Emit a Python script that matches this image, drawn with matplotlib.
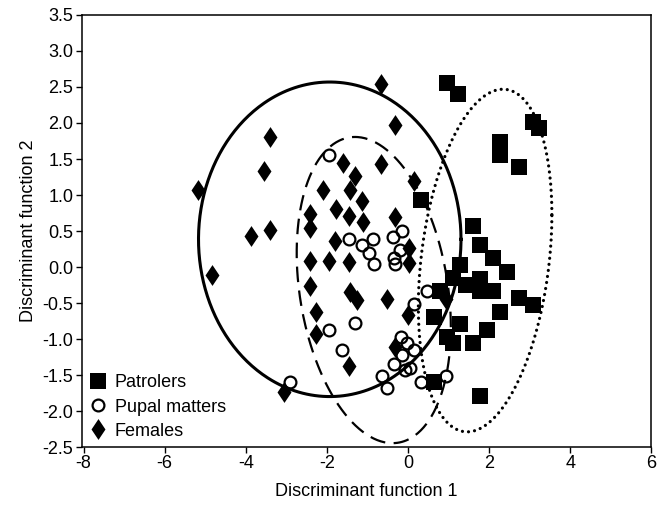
import numpy as np
import matplotlib
matplotlib.use("Agg")
import matplotlib.pyplot as plt

plt.rcParams["font.family"] = ["Liberation Sans", "DejaVu Sans"]
plt.rcParams["axes.unicode_minus"] = False

# group scores (discriminant function 1, 2)
patrol_x = [0.97, 1.24, 3.07, 3.23, 2.26, 2.26, 2.74, 0.31, 1.61, 1.77,
            2.10, 2.43, 1.28, 1.12, 1.44, 1.77, 1.77, 2.10, 0.79, 2.74,
            3.07, 2.27, 0.64, 1.28, 1.94, 0.95, 1.12, 1.61, 0.64, 1.77]
patrol_y = [2.55, 2.40, 2.02, 1.93, 1.74, 1.56, 1.39, 0.93, 0.57, 0.30,
            0.12, -0.07, 0.03, -0.15, -0.25, -0.16, -0.33, -0.33, -0.33, -0.43,
            -0.53, -0.62, -0.69, -0.79, -0.88, -0.97, -1.06, -1.06, -1.60, -1.79]

pupal_x = [-1.96, -1.46, -1.13, -0.86, -0.97, -0.83, -0.37, -0.16, -0.19, -0.35,
           -0.31, 0.47, 0.14, -1.30, -1.96, -1.63, -0.17, -0.02, 0.14, -0.14,
           -0.35, -0.08, 0.04, -0.64, -0.51, 0.31, 0.93, -2.90]
pupal_y = [1.56, 0.39, 0.30, 0.39, 0.20, 0.04, 0.42, 0.50, 0.24, 0.13,
           0.04, -0.33, -0.51, -0.78, -0.88, -1.15, -0.97, -1.06, -1.15, -1.22,
           -1.34, -1.43, -1.40, -1.51, -1.68, -1.59, -1.52, -1.59]

female_x = [-0.66, -0.33, -3.40, -3.56, -5.17, -3.87, -3.40, -4.83, -3.05,
            -1.60, -0.66, -1.30, 0.14, -2.10, -1.42, -1.13, -1.77, -2.41, -1.46,
            -1.12, -0.31, -2.41, -1.79, 0.02, -2.41, -1.96, -1.46, 0.02, -2.41,
            -1.44, -1.25, -0.51, 0.00, 0.93, -2.26, -2.28, -1.46, -0.33]
female_y = [2.54, 1.97, 1.81, 1.33, 1.07, 0.43, 0.52, -0.11, -1.74,
            1.44, 1.43, 1.27, 1.19, 1.07, 1.07, 0.91, 0.80, 0.74, 0.71,
            0.62, 0.70, 0.54, 0.36, 0.27, 0.08, 0.09, 0.07, 0.06, -0.26,
            -0.34, -0.46, -0.44, -0.66, -0.45, -0.63, -0.93, -1.38, -1.11]

# ellipses: centre and spread (sxx, syy, sxy) in data units
solid_centre = [-1.93, 0.385]
solid_spread = [10.47, 4.77, 0.0]
dashed_centre = [-0.845, -0.32]
dashed_spread = [3.61, 4.52, -0.98]
dotted_centre = [1.9, 0.09]
dotted_spread = [2.71, 5.66, 1.05]


def ellipse_xy(centre, spread, n=400):
    sxx, syy, sxy = spread
    t = np.linspace(0, 2 * np.pi, n)
    a = np.sqrt(sxx)
    c = sxy / a
    d = np.sqrt(syy - c * c)
    return centre[0] + a * np.cos(t), centre[1] + c * np.cos(t) + d * np.sin(t)


# diamond a bit wider than matplotlib's "d"
diamond = [(0, 1), (0.67, 0), (0, -1), (-0.67, 0), (0, 1)]

fig = plt.figure(figsize=(6.6, 5.08), dpi=100)
ax = fig.add_axes([0.1235, 0.12, 0.8635, 0.8505])

x, y = ellipse_xy(solid_centre, solid_spread)
ax.plot(x, y, color="black", lw=2.2, zorder=2)
x, y = ellipse_xy(dashed_centre, dashed_spread)
ax.plot(x, y, color="black", lw=1.6, linestyle=(0, (7, 3.8)), zorder=2)
x, y = ellipse_xy(dotted_centre, dotted_spread)
ax.plot(x, y, color="black", lw=2.3, linestyle=(0, (0.01, 1.9)),
        dash_capstyle="round", zorder=2)

h1, = ax.plot(patrol_x, patrol_y, "s", ms=11.3, mfc="black", mec="black",
              mew=0, zorder=3, label="Patrolers")
h2, = ax.plot(pupal_x, pupal_y, "o", ms=8.5, mfc="none", mec="black",
              mew=1.6, zorder=4, label="Pupal matters")
h3, = ax.plot(female_x, female_y, marker=diamond, ls="none", ms=15,
              mfc="black", mec="black", mew=0, zorder=3, label="Females")

ax.set_xlim(-8.05, 6.0)
ax.set_ylim(-2.5, 3.5)
ax.set_xticks(np.arange(-8, 7, 2))
ax.set_yticks(np.arange(-2.5, 3.51, 0.5))
ax.set_yticklabels([f"{v:.1f}" for v in np.arange(-2.5, 3.51, 0.5)])
ax.tick_params(direction="out", length=4, width=1.0, labelsize=13, pad=2,
               top=False, right=False)
for s in ax.spines.values():
    s.set_linewidth(1.1)

ax.set_xlabel("Discriminant function 1", fontsize=13, labelpad=8)
ax.set_ylabel("Discriminant function 2", fontsize=13, labelpad=4)

ax.legend(handles=[h1, h2, h3], loc="lower left", bbox_to_anchor=(0.0, 0.0),
          frameon=False, fontsize=13, handlelength=1.0, handletextpad=0.45,
          labelspacing=0.4, borderaxespad=0.2, borderpad=0.2)

fig.savefig("out.png", dpi=100)
